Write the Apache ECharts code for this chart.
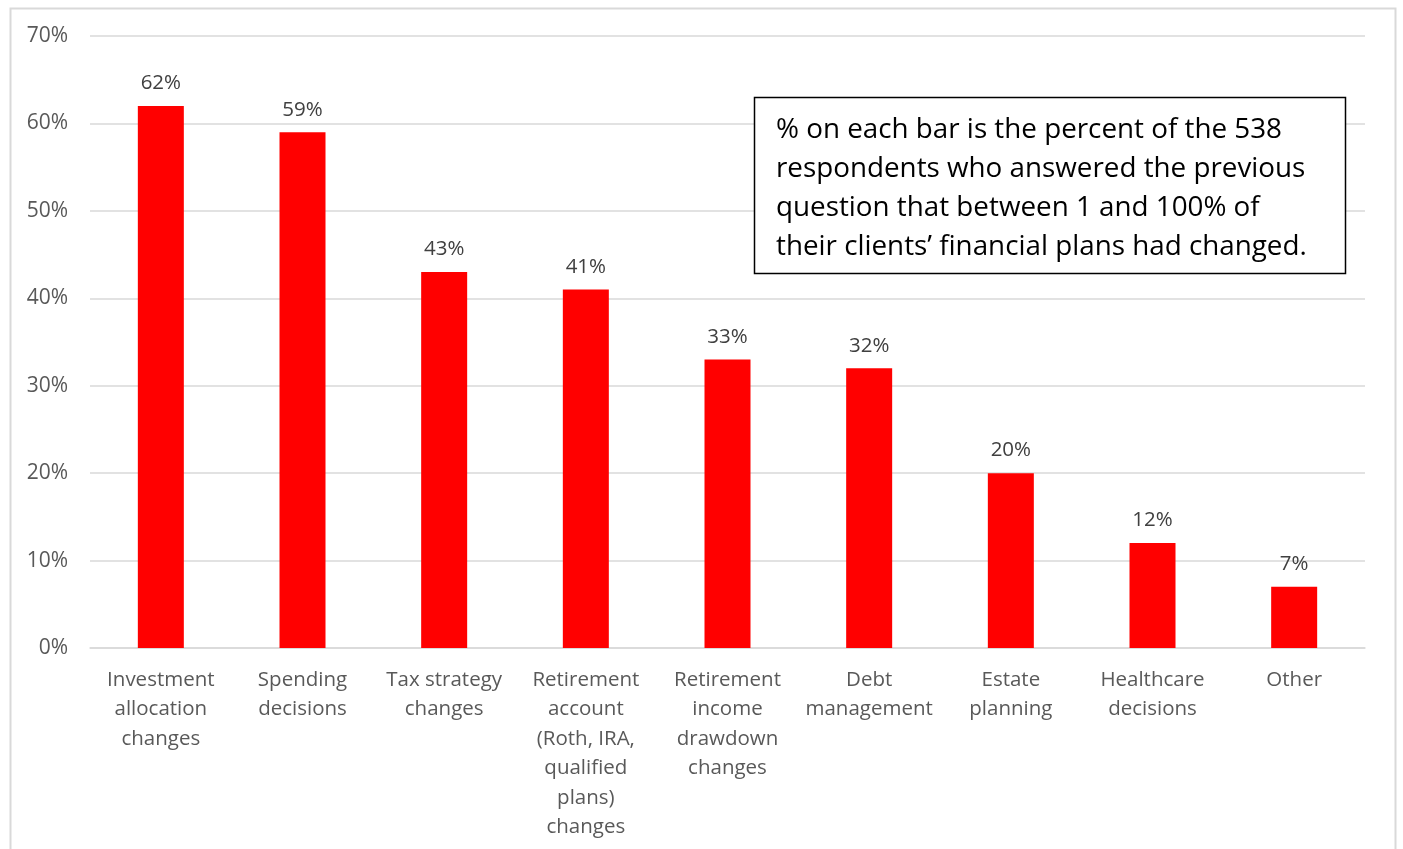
<!DOCTYPE html>
<html>
<head>
<meta charset="utf-8">
<script src="https://cdn.jsdelivr.net/npm/echarts@6/dist/echarts.min.js"></script>
<style>
  html, body { margin: 0; padding: 0; background: #fff; }
  #chart { width: 1403px; height: 849px; }
</style>
</head>
<body>
<div id="chart"></div>
<script>
// Areas of clients' financial plans that changed
const categories = [
  'Investment\nallocation\nchanges',
  'Spending\ndecisions',
  'Tax strategy\nchanges',
  'Retirement\naccount\n(Roth, IRA,\nqualified\nplans)\nchanges',
  'Retirement\nincome\ndrawdown\nchanges',
  'Debt\nmanagement',
  'Estate\nplanning',
  'Healthcare\ndecisions',
  'Other'
];
const shares = [62, 59, 43, 41, 33, 32, 20, 12, 7];
const yTicks = [0, 10, 20, 30, 40, 50, 60, 70];
const noteLines = [
  '% on each bar is the percent of the 538',
  'respondents who answered the previous',
  'question that between 1 and 100% of',
  'their clients\u2019 financial plans had changed.'
];

const FONT = '"Open Sans", "Noto Sans", sans-serif';
const chart = echarts.init(document.getElementById('chart'), null, { renderer: 'canvas' });

chart.setOption({
  animation: false,
  backgroundColor: '#ffffff',
  grid: { left: 90, right: 38, top: 36, bottom: 201, containLabel: false },
  xAxis: {
    type: 'category',
    data: categories,
    axisLine: { show: true, lineStyle: { color: '#d9d9d9', width: 1.5 } },
    axisTick: { show: false },
    axisLabel: {
      interval: 0,
      color: '#595959',
      fontFamily: FONT,
      fontSize: 20.5,
      lineHeight: 29.5,
      margin: 17
    }
  },
  yAxis: {
    type: 'value',
    min: yTicks[0],
    max: yTicks[yTicks.length - 1],
    interval: 10,
    axisLine: { show: false },
    axisTick: { show: false },
    splitLine: { lineStyle: { color: '#d9d9d9', width: 1.5 } },
    axisLabel: {
      color: '#595959',
      fontFamily: FONT,
      fontSize: 21,
      margin: 22,
      formatter: v => v + '%'
    }
  },
  series: [{
    type: 'bar',
    data: shares,
    barWidth: 46,
    itemStyle: { color: '#ff0000' },
    label: {
      show: true,
      position: 'top',
      distance: 12,
      color: '#404040',
      fontFamily: FONT,
      fontSize: 20.5,
      formatter: p => p.value + '%'
    }
  }],
  graphic: [
    {
      type: 'rect',
      shape: { x: 10.5, y: 8.5, width: 1385, height: 880 },
      style: { fill: 'none', stroke: '#d9d9d9', lineWidth: 2 },
      silent: true
    },
    {
      type: 'rect',
      shape: { x: 754.5, y: 97.5, width: 591, height: 176 },
      style: { fill: '#ffffff', stroke: '#000000', lineWidth: 1.5 },
      z: 10
    },
    {
      type: 'text',
      x: 776,
      y: 110,
      z: 11,
      style: {
        text: noteLines.join('\n'),
        fill: '#000000',
        font: '27.8px ' + FONT,
        lineHeight: 39.3
      }
    }
  ]
});
</script>
</body>
</html>
